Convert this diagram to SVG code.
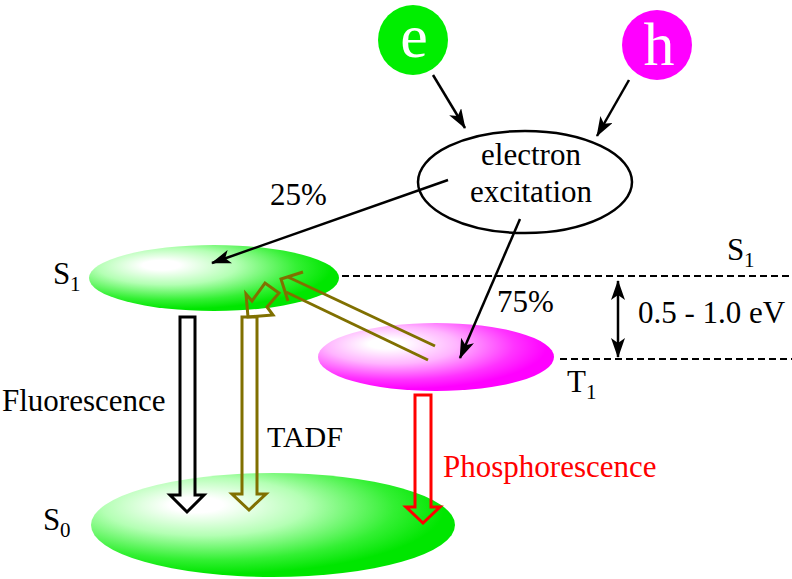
<svg xmlns="http://www.w3.org/2000/svg" width="792" height="579" viewBox="0 0 792 579">
<style>
  text { font-family: "Liberation Serif", "Times New Roman", serif; font-size: 31px; fill: #000; }
  .sub { font-size: 21px; }
  .big { font-size: 62px; fill: #fff; }
  .arr { stroke: #000; stroke-width: 2.5; fill: none; }
  .dash { stroke: #000; stroke-width: 2; stroke-dasharray: 7 4; fill: none; }
  .hollow { fill: none; stroke-width: 3; stroke-linejoin: miter; }
  .olive { stroke: #807000; }
</style>
<defs>
  <radialGradient id="gGreen" cx="0.35" cy="0.35" r="0.62" fx="0.28" fy="0.3">
    <stop offset="0" stop-color="#ffffff"/>
    <stop offset="0.12" stop-color="#ffffff"/>
    <stop offset="0.45" stop-color="#b4ffb4"/>
    <stop offset="0.8" stop-color="#33f033"/>
    <stop offset="1" stop-color="#00e600"/>
  </radialGradient>
  <radialGradient id="gMag" cx="0.35" cy="0.35" r="0.62" fx="0.28" fy="0.3">
    <stop offset="0" stop-color="#ffffff"/>
    <stop offset="0.12" stop-color="#ffffff"/>
    <stop offset="0.45" stop-color="#ffb4ff"/>
    <stop offset="0.8" stop-color="#ff33ff"/>
    <stop offset="1" stop-color="#ff00ff"/>
  </radialGradient>
  <marker id="ah" markerUnits="userSpaceOnUse" markerWidth="22" markerHeight="14" refX="19" refY="7" orient="auto-start-reverse">
    <path d="M0,0 L20,7 L0,14 L5,7 z" fill="#000"/>
  </marker>
</defs>
<g id="node-e">
  <circle cx="413" cy="40" r="35" fill="#00ee00"/>
  <text class="big" x="414" y="57" text-anchor="middle">e</text>
</g>
<g id="node-h">
  <circle cx="657" cy="45" r="35" fill="#ff00ff"/>
  <text class="big" x="659" y="65" text-anchor="middle">h</text>
</g>
<g id="node-excitation">
  <ellipse cx="525" cy="182" rx="107" ry="51" fill="#fff" stroke="#000" stroke-width="2.5"/>
  <text x="531" y="165" text-anchor="middle">electron</text>
  <text x="531" y="202" text-anchor="middle">excitation</text>
</g>
<g id="node-S1">
  <ellipse cx="214" cy="278" rx="125" ry="33" fill="url(#gGreen)"/>
  <text x="53" y="284">S</text>
  <text class="sub" x="70" y="291">1</text>
</g>
<g id="node-T1">
  <ellipse cx="436" cy="357" rx="118" ry="34" fill="url(#gMag)"/>
  <text x="567" y="392">T</text>
  <text class="sub" x="586" y="399">1</text>
</g>
<g id="node-S0">
  <ellipse cx="273" cy="525" rx="182" ry="52" fill="url(#gGreen)"/>
  <text x="43" y="530">S</text>
  <text class="sub" x="60" y="537">0</text>
</g>
<g id="levels">
  <line class="dash" x1="342" y1="276" x2="792" y2="276"/>
  <line class="dash" x1="560" y1="359" x2="792" y2="359"/>
  <text x="727" y="260">S</text>
  <text class="sub" x="744" y="267">1</text>
  <text x="638" y="323">0.5 - 1.0 eV</text>
</g>
<g id="connectors">
  <line class="arr" x1="433" y1="75" x2="465" y2="128" marker-end="url(#ah)"/>
  <line class="arr" x1="629" y1="80" x2="597" y2="136" marker-end="url(#ah)"/>
  <line class="arr" x1="448" y1="180" x2="212" y2="263" marker-end="url(#ah)"/>
  <line class="arr" x1="520" y1="219" x2="460" y2="358" marker-end="url(#ah)"/>
  <line class="arr" x1="618" y1="281" x2="618" y2="357" marker-start="url(#ah)" marker-end="url(#ah)"/>
  <text x="270" y="205">25%</text>
  <text x="497" y="312">75%</text>
  <polygon class="hollow" stroke="#000" points="180,317 195,317 195,495 204,495 187,512 170,495 180,495"/>
  <polygon class="hollow olive" points="242,317 257,317 257,494 266,494 249,510 232,494 242,494"/>
  <polygon class="hollow olive" points="248,317 246,294 252,301 265,283 279,293 267,307 273,315"/>
  <polyline class="hollow olive" points="303,272 281,279 288,301"/>
  <line class="hollow olive" x1="288" y1="277" x2="435" y2="346"/>
  <line class="hollow olive" x1="286" y1="292" x2="428" y2="360"/>
  <polygon class="hollow" stroke="#ff0000" points="415,395 431,395 431,507 440,507 423,523 406,507 415,507"/>
  <text x="2" y="411">Fluorescence</text>
  <text x="267" y="447" style="font-size:30px">TADF</text>
  <text x="443" y="477" style="fill:#ff0000">Phosphorescence</text>
</g>
</svg>
